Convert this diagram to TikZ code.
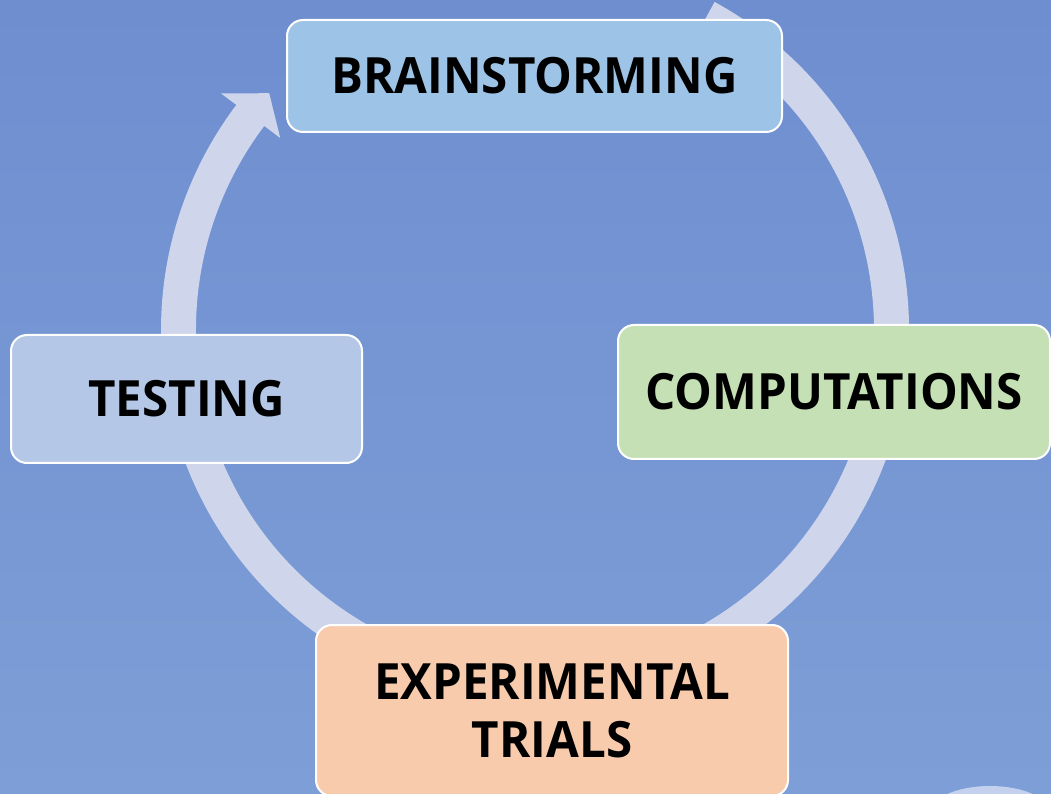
\documentclass[tikz,border=0pt]{standalone}
\usepackage{fontspec}
\setmainfont{Open Sans}[FakeStretch=0.95]
\begin{document}
\begin{tikzpicture}[x=1pt,y=1pt,
  stage/.style={draw=white, line width=2pt, rounded corners=16pt, inner sep=0pt,
    font=\fontsize{50}{58}\selectfont\bfseries, text=black, align=center},
  ring/.style={fill=ringcol}]
\definecolor{bgtop}{HTML}{6E8ED0}
\definecolor{bgbot}{HTML}{7E9ED7}
\definecolor{ringcol}{HTML}{CFD5EA}
\definecolor{bluebox}{HTML}{9DC3E6}
\definecolor{greenbox}{HTML}{C5E0B4}
\definecolor{lavbox}{HTML}{B4C7E7}
\definecolor{peachbox}{HTML}{F8CBAD}
\definecolor{blob}{HTML}{C3D1EE}
\useasboundingbox (0,0) rectangle (1051,793);
\clip (0,0) rectangle (1051,793);
\shade[top color=bgtop, bottom color=bgbot] (0,0) rectangle (1051,793);
\fill[blob] (990,-22) ellipse[x radius=62, y radius=29];
\begin{scope}[shift={(535,463)}]
\fill[ring] (61.3:374) arc[start angle=61.3, end angle=-217, radius=374]
  -- (-217:393) -- (-221.7:356) -- (-217:319) -- (-217:339)
  arc[start angle=-217, end angle=61.3, radius=339] -- cycle;
\end{scope}
\node[stage, fill=bluebox, minimum width=495, minimum height=112] (brain) at (534.5,717) {BRAINSTORMING};
\node[stage, fill=greenbox, minimum width=432, minimum height=134] (comp) at (834,401) {COMPUTATIONS};
\node[stage, fill=lavbox, minimum width=351, minimum height=128] (test) at (186.5,394) {TESTING};
\node[stage, fill=peachbox, minimum width=472, minimum height=171] (exp) at (552,82.5) {EXPERIMENTAL\\TRIALS};
\end{tikzpicture}
\end{document}
